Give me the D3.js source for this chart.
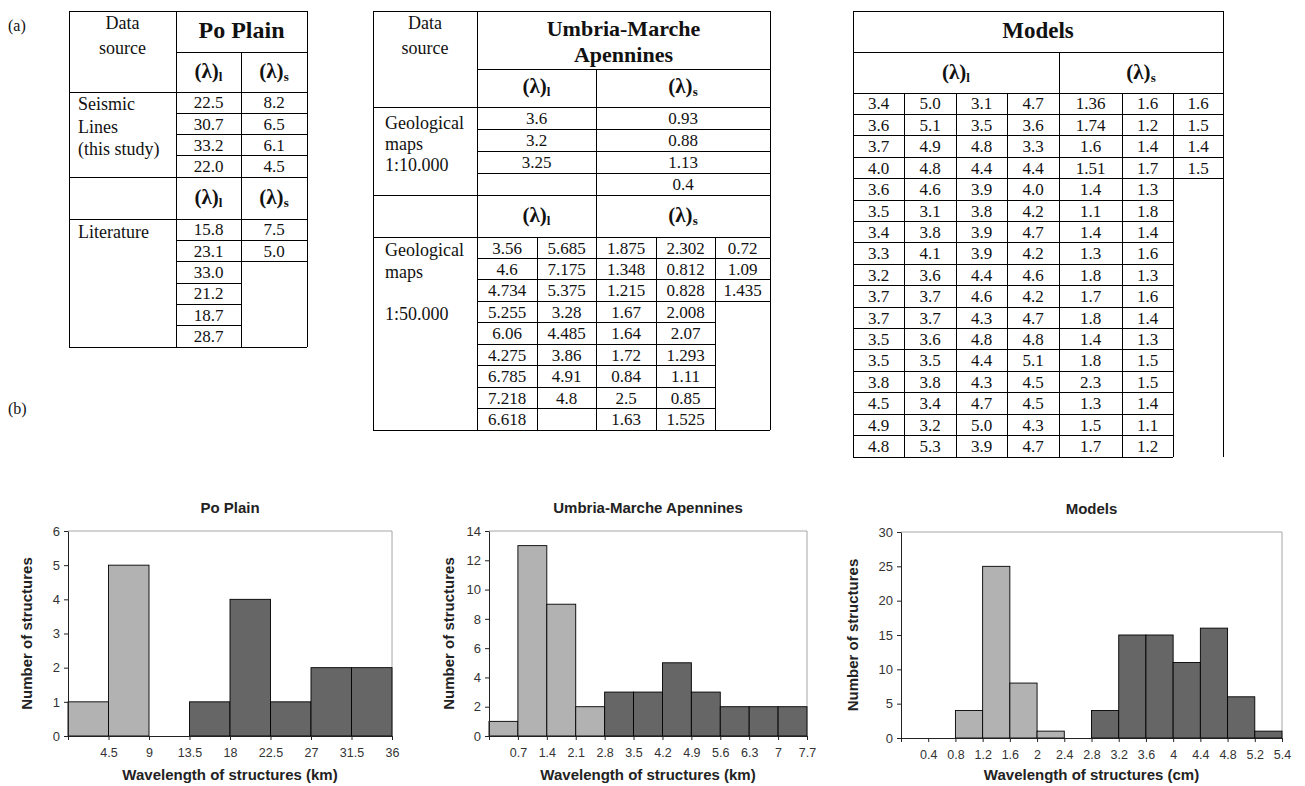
<!DOCTYPE html>
<html>
<head>
<meta charset="utf-8">
<script src="https://cdn.jsdelivr.net/npm/d3@7"></script>
<style>
  body { margin: 0; background: #fff; }
  svg { display: block; }
  .serif { font-family: "Liberation Serif", "Times New Roman", serif; }
  .sans { font-family: "Liberation Sans", Arial, sans-serif; }
  .grid line { stroke: #000; stroke-width: 1; shape-rendering: crispEdges; }
</style>
</head>
<body>
<svg id="fig" width="1305" height="786"></svg>
<script>
// ---- table values (a) ----
const poSeismicL = ["22.5", "30.7", "33.2", "22.0"]
const poSeismicS = ["8.2", "6.5", "6.1", "4.5"]
const poLitL = ["15.8", "23.1", "33.0", "21.2", "18.7", "28.7"]
const poLitS = ["7.5", "5.0"]

const umMap10L = ["3.6", "3.2", "3.25"]
const umMap10S = ["0.93", "0.88", "1.13", "0.4"]
const umMap50L = [
  ["3.56", "4.6", "4.734", "5.255", "6.06", "4.275", "6.785", "7.218", "6.618"],
  ["5.685", "7.175", "5.375", "3.28", "4.485", "3.86", "4.91", "4.8", ""]
]
const umMap50S = [
  ["1.875", "1.348", "1.215", "1.67", "1.64", "1.72", "0.84", "2.5", "1.63"],
  ["2.302", "0.812", "0.828", "2.008", "2.07", "1.293", "1.11", "0.85", "1.525"],
  ["0.72", "1.09", "1.435"]
]

const modL = [
  ["3.4", "3.6", "3.7", "4.0", "3.6", "3.5", "3.4", "3.3", "3.2", "3.7", "3.7", "3.5", "3.5", "3.8", "4.5", "4.9", "4.8"],
  ["5.0", "5.1", "4.9", "4.8", "4.6", "3.1", "3.8", "4.1", "3.6", "3.7", "3.7", "3.6", "3.5", "3.8", "3.4", "3.2", "5.3"],
  ["3.1", "3.5", "4.8", "4.4", "3.9", "3.8", "3.9", "3.9", "4.4", "4.6", "4.3", "4.8", "4.4", "4.3", "4.7", "5.0", "3.9"],
  ["4.7", "3.6", "3.3", "4.4", "4.0", "4.2", "4.7", "4.2", "4.6", "4.2", "4.7", "4.8", "5.1", "4.5", "4.5", "4.3", "4.7"]
]
const modS = [
  ["1.36", "1.74", "1.6", "1.51", "1.4", "1.1", "1.4", "1.3", "1.8", "1.7", "1.8", "1.4", "1.8", "2.3", "1.3", "1.5", "1.7"],
  ["1.6", "1.2", "1.4", "1.7", "1.3", "1.8", "1.4", "1.6", "1.3", "1.6", "1.4", "1.3", "1.5", "1.5", "1.4", "1.1", "1.2"],
  ["1.6", "1.5", "1.4", "1.5"]
]

// ---- histogram values (b) ----
const poBins = ["4.5", "9", "13.5", "18", "22.5", "27", "31.5", "36"]
const poShort = [1, 5, 0, 0, 0, 0, 0, 0]
const poLong = [0, 0, 0, 1, 4, 1, 2, 2]

const umBins = ["0.7", "1.4", "2.1", "2.8", "3.5", "4.2", "4.9", "5.6", "6.3", "7", "7.7"]
const umShort = [1, 13, 9, 2, 0, 0, 0, 0, 0, 0, 0]
const umLong = [0, 0, 0, 0, 3, 3, 5, 3, 2, 2, 2]

const modBins = ["0.4", "0.8", "1.2", "1.6", "2", "2.4", "2.8", "3.2", "3.6", "4", "4.4", "4.8", "5.2", "5.4"]
const modShort = [0, 0, 4, 25, 8, 1, 0, 0, 0, 0, 0, 0, 0, 0]
const modLong = [0, 0, 0, 0, 0, 0, 0, 4, 15, 15, 11, 16, 6, 1]

const svg = d3.select("#fig")

// ---------- table helpers ----------
const grid = svg.append("g").attr("class", "grid")
const hline = (x1, x2, y) => grid.append("line").attr("x1", x1).attr("x2", x2).attr("y1", y).attr("y2", y)
const vline = (x, y1, y2) => grid.append("line").attr("x1", x).attr("x2", x).attr("y1", y1).attr("y2", y2)

const VAL = 17   // data cell font size
const LAB = 18   // row label font size

function txt(s, x, y, size, opts = {}) {
  return svg.append("text").attr("class", "serif")
    .attr("x", x).attr("y", y)
    .attr("font-size", size)
    .attr("font-weight", opts.bold ? "bold" : null)
    .attr("text-anchor", opts.anchor || "middle")
    .attr("fill", "#111")
    .text(s)
}
function lambda(sub, x, y) {
  const t = txt("(λ)", x, y, 21, { bold: true })
  t.append("tspan").attr("font-size", 13).attr("dy", 3).text(sub)
}
// a column of values, rows of height h starting at y0
function column(vals, cx, y0, h, size) {
  vals.forEach((v, i) => txt(v, cx, y0 + h * i + h / 2 + size * 0.34, size))
}

txt("(a)", 8, 31, 16, { anchor: "start" })
txt("(b)", 8, 414, 16, { anchor: "start" })

// ---------- Po Plain table ----------
{
  const X = [69, 176, 241, 307]
  const top = 11, title = 52, head = 92, sec = 177, head2 = 219, bottom = 347
  const h1 = (sec - head) / poSeismicL.length
  const h2 = (bottom - head2) / poLitL.length
  hline(X[0], X[3], top); hline(X[0], X[3], bottom)
  vline(X[0], top, bottom); vline(X[3], top, bottom)
  vline(X[1], top, bottom); vline(X[2], title, bottom)
  hline(X[1], X[3], title)
  ;[head, sec, head2].forEach(y => hline(X[0], X[3], y))
  d3.range(1, poSeismicL.length).forEach(i => hline(X[1], X[3], head + h1 * i))
  d3.range(1, poLitL.length).forEach(i => hline(X[1], i <= poLitS.length ? X[3] : X[2], head2 + h2 * i))

  txt("Data", (X[0] + X[1]) / 2, 29, LAB)
  txt("source", (X[0] + X[1]) / 2, 54, LAB)
  txt("Po Plain", (X[1] + X[3]) / 2, 38, 24, { bold: true })
  lambda("l", (X[1] + X[2]) / 2, 78); lambda("s", (X[2] + X[3]) / 2, 78)
  lambda("l", (X[1] + X[2]) / 2, 204); lambda("s", (X[2] + X[3]) / 2, 204)
  column(poSeismicL, (X[1] + X[2]) / 2, head, h1, VAL)
  column(poSeismicS, (X[2] + X[3]) / 2, head, h1, VAL)
  column(poLitL, (X[1] + X[2]) / 2, head2, h2, VAL)
  column(poLitS, (X[2] + X[3]) / 2, head2, h2, VAL)
  ;["Seismic", "Lines", "(this study)"].forEach((s, i) => txt(s, 78, 110 + i * 22.5, LAB, { anchor: "start" }))
  txt("Literature", 78, 238, LAB, { anchor: "start" })
}

// ---------- Umbria-Marche table ----------
{
  const X = [373, 477, 537, 596, 656, 715, 770]
  const top = 11, title = 69, head = 107, sec = 195, head2 = 237, bottom = 430
  const h1 = (sec - head) / umMap10S.length
  const h2 = (bottom - head2) / umMap50L[0].length
  hline(X[0], X[6], top); hline(X[0], X[6], bottom)
  vline(X[0], top, bottom); vline(X[6], top, bottom)
  vline(X[1], top, bottom); vline(X[3], title, bottom)
  hline(X[1], X[6], title)
  ;[head, sec, head2].forEach(y => hline(X[0], X[6], y))
  d3.range(1, umMap10S.length).forEach(i => hline(X[1], X[6], head + h1 * i))
  ;[X[2], X[4], X[5]].forEach(x => vline(x, head2, bottom))
  d3.range(1, umMap50L[0].length).forEach(i => hline(X[1], i <= umMap50S[2].length ? X[6] : X[5], head2 + h2 * i))

  txt("Data", (X[0] + X[1]) / 2, 29, LAB)
  txt("source", (X[0] + X[1]) / 2, 54, LAB)
  txt("Umbria-Marche", (X[1] + X[6]) / 2, 36, 22, { bold: true })
  txt("Apennines", (X[1] + X[6]) / 2, 62, 22, { bold: true })
  lambda("l", (X[1] + X[3]) / 2, 93); lambda("s", (X[3] + X[6]) / 2, 93)
  lambda("l", (X[1] + X[3]) / 2, 222); lambda("s", (X[3] + X[6]) / 2, 222)
  column(umMap10L, (X[1] + X[3]) / 2, head, h1, VAL)
  column(umMap10S, (X[3] + X[6]) / 2, head, h1, VAL)
  umMap50L.forEach((c, j) => column(c, (X[1 + j] + X[2 + j]) / 2, head2, h2, VAL))
  umMap50S.forEach((c, j) => column(c, (X[3 + j] + X[4 + j]) / 2, head2, h2, VAL))
  ;["Geological", "maps", "1:10.000"].forEach((s, i) => txt(s, 385, 129 + i * 21, LAB, { anchor: "start" }))
  txt("Geological", 385, 256, LAB, { anchor: "start" })
  txt("maps", 385, 278, LAB, { anchor: "start" })
  txt("1:50.000", 385, 320, LAB, { anchor: "start" })
}

// ---------- Models table ----------
{
  const X = [853, 904, 956, 1007, 1059, 1122, 1173, 1223]
  const top = 11, title = 52, head = 93, bottom = 457
  const h = (bottom - head) / modL[0].length
  hline(X[0], X[7], top); hline(X[0], X[6], bottom)
  vline(X[0], top, bottom); vline(X[7], top, bottom)
  hline(X[0], X[7], title); hline(X[0], X[7], head)
  vline(X[4], title, bottom)
  ;[X[1], X[2], X[3], X[5], X[6]].forEach(x => vline(x, head, bottom))
  d3.range(1, modL[0].length).forEach(i => hline(X[0], i <= modS[2].length ? X[7] : X[6], head + h * i))

  txt("Models", (X[0] + X[7]) / 2, 38, 23, { bold: true })
  lambda("l", (X[0] + X[4]) / 2, 79); lambda("s", (X[4] + X[7]) / 2, 79)
  modL.forEach((c, j) => column(c, (X[j] + X[j + 1]) / 2, head, h, VAL))
  modS.forEach((c, j) => column(c, (X[4 + j] + X[5 + j]) / 2, head, h, VAL))
}

// ---------- histograms ----------
function histogram(o) {
  const g = svg.append("g").attr("class", "sans")
  const n = o.bins.length
  const x = d3.scaleLinear().domain([0, n]).range([o.left, o.right])
  const y = d3.scaleLinear().domain([0, o.yMax]).range([o.bottom, o.top])

  g.append("path")
    .attr("d", `M${o.left},${o.top}H${o.right}V${o.bottom}`)
    .attr("fill", "none").attr("stroke", "#a6a6a6")

  const series = [{ vals: o.short, fill: "#b2b2b2" }, { vals: o.long, fill: "#666666" }]
  series.forEach(s => {
    g.append("g").selectAll("rect")
      .data(s.vals.map((v, i) => ({ v, i })).filter(d => d.v > 0))
      .join("rect")
        .attr("x", d => x(d.i))
        .attr("width", d => x(d.i + 1) - x(d.i))
        .attr("y", d => y(d.v))
        .attr("height", d => y(0) - y(d.v))
        .attr("fill", s.fill)
        .attr("stroke", "#000")
        .attr("stroke-width", 0.9)
  })

  const xa = g.append("g").attr("transform", `translate(0,${o.bottom})`)
    .call(d3.axisBottom(x).tickValues(d3.range(n + 1))
      .tickFormat(i => i === 0 ? "" : o.bins[i - 1])
      .tickSize(4).tickSizeOuter(0).tickPadding(8))
  const ya = g.append("g").attr("transform", `translate(${o.left},0)`)
    .call(d3.axisLeft(y).tickValues(d3.range(0, o.yMax + 0.001, o.yStep))
      .tickFormat(d3.format("d"))
      .tickSize(4).tickSizeOuter(0).tickPadding(4))
  ;[xa, ya].forEach(a => {
    a.attr("font-family", null).attr("font-size", 13)
    a.selectAll("text").attr("fill", "#333")
    a.select(".domain").attr("stroke", "#222")
    a.selectAll(".tick line").attr("stroke", "#222")
  })
  xa.attr("font-size", 12.5)

  const cx = (o.left + o.right) / 2
  g.append("text").attr("x", cx).attr("y", o.top - 18)
    .attr("text-anchor", "middle").attr("font-weight", "bold").attr("font-size", 15)
    .attr("fill", "#222").text(o.title)
  g.append("text").attr("x", cx).attr("y", 780)
    .attr("text-anchor", "middle").attr("font-weight", "bold").attr("font-size", 15)
    .attr("fill", "#222").text(o.xTitle)
  g.append("text")
    .attr("transform", `translate(${o.yTitleX},${(o.top + o.bottom) / 2}) rotate(-90)`)
    .attr("text-anchor", "middle").attr("font-weight", "bold").attr("font-size", 15)
    .attr("fill", "#222").text("Number of structures")
}

histogram({
  title: "Po Plain", xTitle: "Wavelength of structures (km)",
  bins: poBins, short: poShort, long: poLong, yMax: 6, yStep: 1,
  left: 68, right: 392, top: 531, bottom: 736, yTitleX: 32
})
histogram({
  title: "Umbria-Marche Apennines", xTitle: "Wavelength of structures (km)",
  bins: umBins, short: umShort, long: umLong, yMax: 14, yStep: 2,
  left: 489, right: 807, top: 531, bottom: 736, yTitleX: 454
})
histogram({
  title: "Models", xTitle: "Wavelength of structures (cm)",
  bins: modBins, short: modShort, long: modLong, yMax: 30, yStep: 5,
  left: 901, right: 1282, top: 532, bottom: 738, yTitleX: 858
})
</script>
</body>
</html>
